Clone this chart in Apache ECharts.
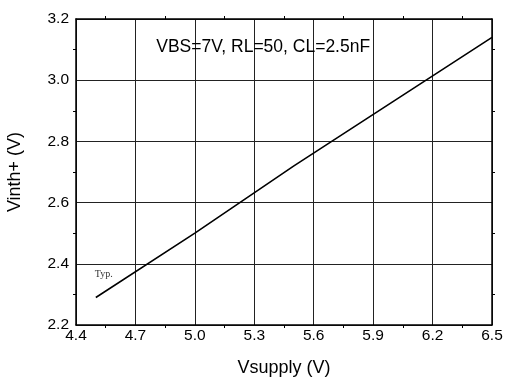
<!DOCTYPE html>
<html>
<head>
<meta charset="utf-8">
<script src="https://cdn.jsdelivr.net/npm/echarts@6/dist/echarts.min.js"></script>
<style>
  html, body { margin: 0; padding: 0; background: #fff; }
  #chart { width: 511px; height: 377px; }
</style>
</head>
<body>
<div id="chart"></div>
<script>
// Threshold voltage versus supply voltage
const vsupply = [4.5, 5.0, 5.5, 6.0, 6.5];
const vinth = [2.29, 2.50, 2.72, 2.93, 3.14];
const xTicks = { min: 4.4, max: 6.5, step: 0.3 };
const yTicks = { min: 2.2, max: 3.2, step: 0.2 };
const conditionText = 'VBS=7V, RL=50, CL=2.5nF';
const typText = 'Typ.';

const font = 'Liberation Sans, Arial, sans-serif';
const chart = echarts.init(document.getElementById('chart'), null, { renderer: 'canvas' });

const frameAxis = {
  axisLine: { show: true, lineStyle: { color: '#000', width: 1.5 } },
  axisTick: { show: false },
  minorTick: { show: true, splitNumber: 2, length: 3, lineStyle: { color: '#000', width: 1 } },
  axisLabel: { show: false },
  splitLine: { show: false }
};

chart.setOption({
  animation: false,
  grid: { left: 76, right: 19, top: 19, bottom: 52, containLabel: false, outerBoundsMode: 'none' },
  xAxis: [
    {
      type: 'value', min: xTicks.min, max: xTicks.max, interval: xTicks.step,
      name: 'Vsupply (V)', nameLocation: 'middle', nameGap: 34,
      nameTextStyle: { fontFamily: font, fontSize: 18, color: '#000' },
      axisLine: { lineStyle: { color: '#000', width: 1.5 } },
      axisTick: { show: false },
      minorTick: { show: true, splitNumber: 2, length: 3, lineStyle: { color: '#000' } },
      axisLabel: { fontFamily: font, fontSize: 15.5, color: '#000', margin: 3,
        formatter: v => v.toFixed(1) },
      splitLine: { show: true, lineStyle: { color: '#222', width: 1 } }
    },
    Object.assign({ type: 'value', position: 'top', min: xTicks.min, max: xTicks.max, interval: xTicks.step }, frameAxis)
  ],
  yAxis: [
    {
      type: 'value', min: yTicks.min, max: yTicks.max, interval: yTicks.step,
      name: 'Vinth+ (V)', nameLocation: 'middle', nameGap: 52, nameRotate: 90,
      nameTextStyle: { fontFamily: font, fontSize: 18, color: '#000' },
      axisLine: { show: true, lineStyle: { color: '#000', width: 1.5 } },
      axisTick: { show: false },
      minorTick: { show: true, splitNumber: 2, length: 3, lineStyle: { color: '#000' } },
      axisLabel: { fontFamily: font, fontSize: 15.5, color: '#000', margin: 7,
        formatter: v => v.toFixed(1) },
      splitLine: { show: true, lineStyle: { color: '#222', width: 1 } }
    },
    Object.assign({ type: 'value', position: 'right', min: yTicks.min, max: yTicks.max, interval: yTicks.step }, frameAxis)
  ],
  series: [
    {
      type: 'line',
      data: vsupply.map((x, i) => [x, vinth[i]]),
      showSymbol: false,
      lineStyle: { color: '#000', width: 1.6 },
      markPoint: {
        symbol: 'rect', symbolSize: 0,
        data: [
          { coord: [5.345, 3.107], label: { show: true, formatter: conditionText, fontFamily: font, fontSize: 17.5, color: '#000' } },
          { coord: [4.54, 2.367], label: { show: true, formatter: typText, fontFamily: 'Liberation Serif, Times New Roman, serif', fontSize: 10, color: '#333' } }
        ]
      }
    }
  ]
});
</script>
</body>
</html>
